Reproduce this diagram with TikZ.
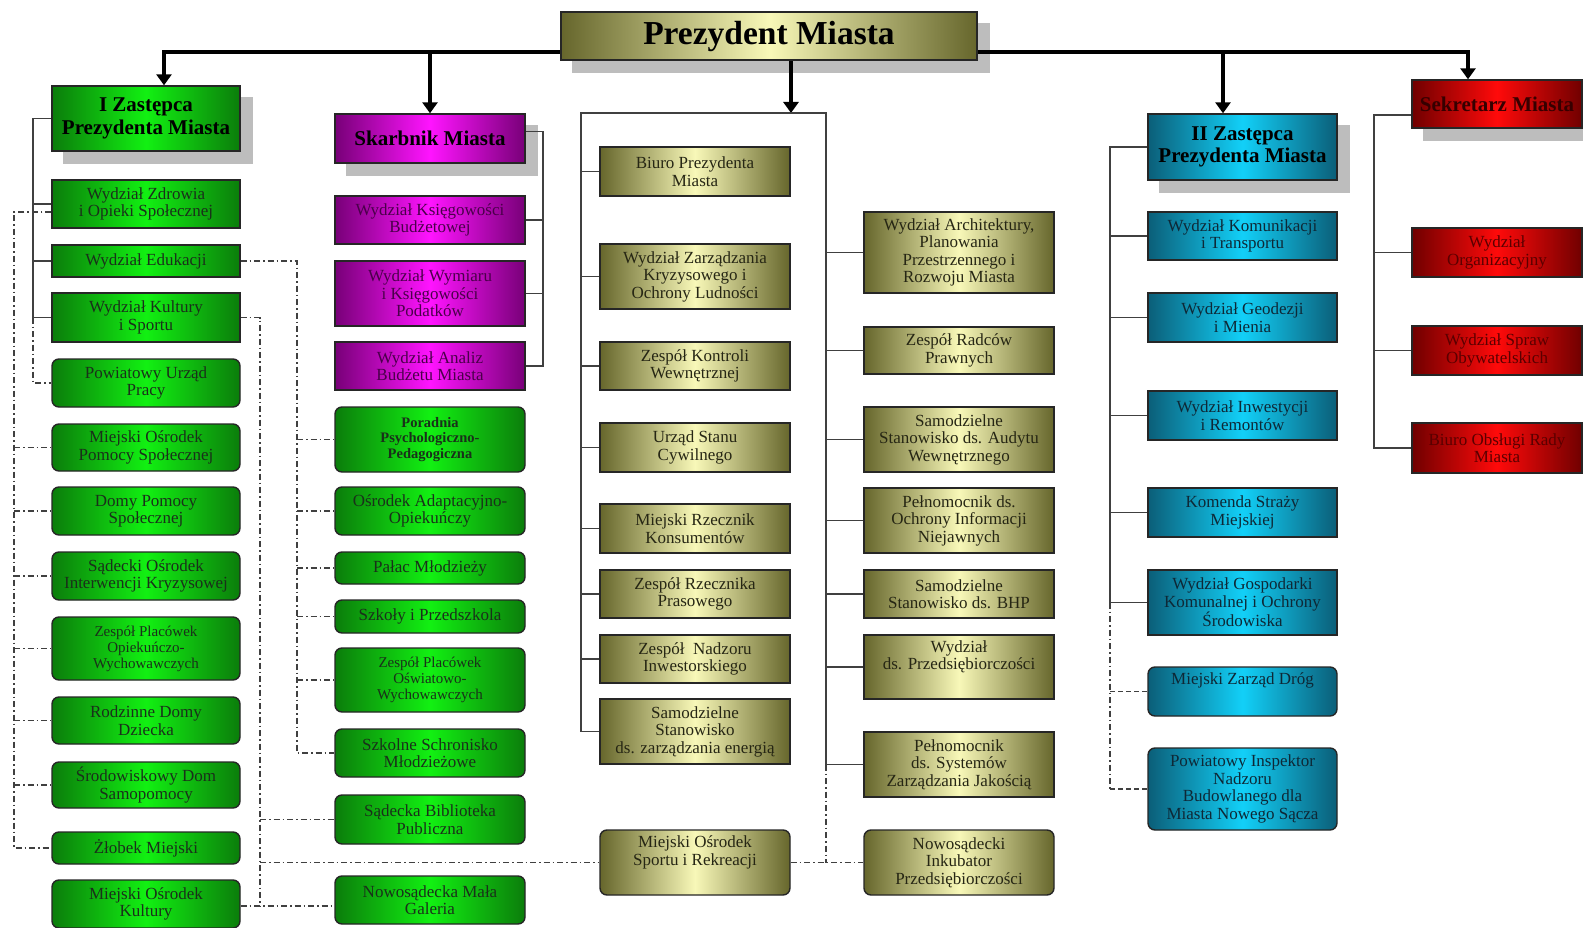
\documentclass[tikz,border=0pt]{standalone}
\usepackage{fontspec}
\setmainfont{Liberation Serif}
\usetikzlibrary{arrows.meta,backgrounds,calc}
\definecolor{gD}{HTML}{0B7D0B}\definecolor{gL}{HTML}{12F012}\definecolor{gT}{HTML}{1A301A}
\definecolor{oD}{HTML}{66662C}\definecolor{oL}{HTML}{F8F8B8}\definecolor{oT}{HTML}{262614}
\definecolor{mD}{HTML}{780078}\definecolor{mL}{HTML}{FF14FF}\definecolor{mT}{HTML}{4A004A}
\definecolor{bD}{HTML}{0B5E78}\definecolor{bL}{HTML}{12D0F8}\definecolor{bT}{HTML}{0E2836}
\definecolor{rD}{HTML}{700000}\definecolor{rL}{HTML}{FF0A0A}\definecolor{rT}{HTML}{5A0000}
\definecolor{shd}{HTML}{BDBDBD}
\newcommand{\orgbox}[7]{\node[#1, minimum width={#5pt-#3pt}, minimum height={#6pt-#4pt}] (#2) at ({(#3+#5)/2},{(#4+#6)/2}) {#7};}
\begin{document}
\begin{tikzpicture}[x=1pt,y=-1pt,
  box/.style={draw=black!85, line width=1.4pt, inner sep=1pt, align=center, font=\fontsize{17}{17.5}\selectfont},
  grn/.style={box, left color=gD, right color=gD, middle color=gL, text=gT},
  olv/.style={box, left color=oD, right color=oD, middle color=oL, text=oT},
  mag/.style={box, left color=mD, right color=mD, middle color=mL, text=mT},
  blu/.style={box, left color=bD, right color=bD, middle color=bL, text=bT},
  rdb/.style={box, left color=rD, right color=rD, middle color=rL, text=rT},
  rnd/.style={rounded corners=7pt},
  sml/.style={font=\fontsize{15}{16}\selectfont},
  smlb/.style={font=\fontsize{14.5}{15.5}\selectfont\bfseries},
  hdr/.style={font=\fontsize{21}{22.5}\selectfont\bfseries, text=black},
  conn/.style={draw=black!75, line width=1.3pt},
  dd/.style={draw=black!75, line width=1.2pt, dash pattern=on 6pt off 3pt on 1.5pt off 3pt},
  dsh/.style={draw=black!75, line width=1.2pt, dash pattern=on 5pt off 3pt},
  busarrow/.style={draw=black, line width=4.5pt, -{Triangle[width=15pt,length=11pt]}},
  shadowbox/.style={fill=shd}
]
\useasboundingbox (0,0) rectangle (1583,928);

% headers
\orgbox{olv,hdr,font=\fontsize{33.5}{35}\selectfont\bfseries}{pm}{561}{12}{977}{60}{Prezydent Miasta}
\orgbox{grn,hdr}{iz}{52}{86}{240}{151}{I Zastępca\\Prezydenta Miasta}
\orgbox{mag,hdr}{sk}{335}{114}{525}{163}{Skarbnik Miasta}
\orgbox{blu,hdr}{iiz}{1148}{114}{1337}{180}{II Zastępca\\Prezydenta Miasta}
\orgbox{rdb,hdr,font=\fontsize{21}{22}\selectfont\bfseries,text=rT!60!black}{sek}{1412}{80}{1582}{128}{Sekretarz Miasta}

% left column
\orgbox{grn}{wzd}{52}{180}{240}{228}{Wydział Zdrowia\\i Opieki Społecznej}
\orgbox{grn}{wed}{52}{245}{240}{277}{Wydział Edukacji}
\orgbox{grn}{wku}{52}{293}{240}{342}{Wydział Kultury\\i Sportu}
\orgbox{grn,rnd}{pup}{52}{359}{240}{407}{Powiatowy Urząd\\Pracy}
\orgbox{grn,rnd}{mops}{52}{424}{240}{471}{Miejski Ośrodek\\Pomocy Społecznej}
\orgbox{grn,rnd}{dps}{52}{487}{240}{535}{Domy Pomocy\\Społecznej}
\orgbox{grn,rnd}{soik}{52}{552}{240}{600}{Sądecki Ośrodek\\Interwencji Kryzysowej}
\orgbox{grn,rnd,sml}{zpow}{52}{617}{240}{680}{Zespół Placówek\\Opiekuńczo-\\Wychowawczych}
\orgbox{grn,rnd}{rdd}{52}{697}{240}{744}{Rodzinne Domy\\Dziecka}
\orgbox{grn,rnd}{sds}{52}{762}{240}{808}{Środowiskowy Dom\\Samopomocy}
\orgbox{grn,rnd}{zm}{52}{832}{240}{864}{Żłobek Miejski}
\orgbox{grn,rnd}{mok}{52}{880}{240}{928}{Miejski Ośrodek\\Kultury}

% second column
\orgbox{mag}{wkb}{335}{196}{525}{244}{Wydział Księgowości\\Budżetowej}
\orgbox{mag}{wwk}{335}{261}{525}{326}{Wydział Wymiaru\\i Księgowości\\Podatków}
\orgbox{mag}{wab}{335}{342}{525}{390}{Wydział Analiz\\Budżetu Miasta}
\orgbox{grn,rnd,smlb}{ppp}{335}{407}{525}{472}{Poradnia\\Psychologiczno-\\Pedagogiczna}
\orgbox{grn,rnd}{oao}{335}{487}{525}{535}{Ośrodek Adaptacyjno-\\Opiekuńczy}
\orgbox{grn,rnd}{pml}{335}{552}{525}{584}{Pałac Młodzieży}
\orgbox{grn,rnd}{szp}{335}{600}{525}{633}{Szkoły i Przedszkola}
\orgbox{grn,rnd,sml}{zpo}{335}{648}{525}{712}{Zespół Placówek\\Oświatowo-\\Wychowawczych}
\orgbox{grn,rnd}{ssm}{335}{729}{525}{777}{Szkolne Schronisko\\Młodzieżowe}
\orgbox{grn,rnd}{sbp}{335}{795}{525}{844}{Sądecka Biblioteka\\Publiczna}
\orgbox{grn,rnd}{nmg}{335}{876}{525}{924}{Nowosądecka Mała\\Galeria}

% central left
\orgbox{olv}{bpm}{600}{147}{790}{196}{Biuro Prezydenta\\Miasta}
\orgbox{olv}{wzk}{600}{244}{790}{309}{Wydział Zarządzania\\Kryzysowego i\\Ochrony Ludności}
\orgbox{olv}{zkw}{600}{342}{790}{390}{Zespół Kontroli\\Wewnętrznej}
\orgbox{olv}{usc}{600}{423}{790}{472}{Urząd Stanu\\Cywilnego}
\orgbox{olv}{mrk}{600}{504}{790}{553}{Miejski Rzecznik\\Konsumentów}
\orgbox{olv}{zrp}{600}{570}{790}{618}{Zespół Rzecznika\\Prasowego}
\orgbox{olv}{zni}{600}{635}{790}{683}{Zespół\ \ Nadzoru\\Inwestorskiego}
\orgbox{olv}{sse}{600}{699}{790}{764}{Samodzielne\\Stanowisko\\ds. zarządzania energią}
\orgbox{olv,rnd}{mosir}{600}{830}{790}{895}{Miejski Ośrodek\\Sportu i Rekreacji\\[6pt]}

% central right
\orgbox{olv}{wap}{864}{212}{1054}{293}{Wydział Architektury,\\Planowania\\Przestrzennego i\\Rozwoju Miasta}
\orgbox{olv}{zrpr}{864}{327}{1054}{374}{Zespół Radców\\Prawnych}
\orgbox{olv}{ssa}{864}{407}{1054}{472}{Samodzielne\\Stanowisko ds. Audytu\\Wewnętrznego}
\orgbox{olv}{poin}{864}{488}{1054}{553}{Pełnomocnik ds.\\Ochrony Informacji\\Niejawnych}
\orgbox{olv}{bhp}{864}{570}{1054}{618}{Samodzielne\\Stanowisko ds. BHP}
\orgbox{olv}{wdp}{864}{635}{1054}{699}{Wydział\\ds. Przedsiębiorczości\\[6pt]}
\orgbox{olv}{psz}{864}{732}{1054}{797}{Pełnomocnik\\ds. Systemów\\Zarządzania Jakością}
\orgbox{olv,rnd}{nip}{864}{830}{1054}{895}{Nowosądecki\\Inkubator\\Przedsiębiorczości}

% blue column
\orgbox{blu}{wkt}{1148}{212}{1337}{260}{Wydział Komunikacji\\i Transportu}
\orgbox{blu}{wgm}{1148}{293}{1337}{342}{Wydział Geodezji\\i Mienia}
\orgbox{blu}{wir}{1148}{391}{1337}{440}{Wydział Inwestycji\\i Remontów}
\orgbox{blu}{ksm}{1148}{488}{1337}{537}{Komenda Straży\\Miejskiej}
\orgbox{blu}{wgk}{1148}{570}{1337}{635}{Wydział Gospodarki\\Komunalnej i Ochrony\\Środowiska}
\orgbox{blu,rnd}{mzd}{1148}{667}{1337}{716}{Miejski Zarząd Dróg\\[8pt]}
\orgbox{blu,rnd}{pinb}{1148}{748}{1337}{830}{Powiatowy Inspektor\\Nadzoru\\Budowlanego dla\\Miasta Nowego Sącza}

% red column
\orgbox{rdb}{wo}{1412}{228}{1582}{277}{Wydział\\Organizacyjny}
\orgbox{rdb}{wso}{1412}{326}{1582}{375}{Wydział Spraw\\Obywatelskich}
\orgbox{rdb}{bor}{1412}{423}{1582}{473}{Biuro Obsługi Rady\\Miasta}

\begin{pgfonlayer}{background}
  \fill[white] (0,0) rectangle (1583,928);
  % shadows
  \foreach \n in {pm,iz,sk,iiz,sek}
    \fill[shadowbox] ([shift={(12,12)}]\n.south west) rectangle ([shift={(12,12)}]\n.north east);

  % top bus and arrows
  \coordinate (busL) at (164,52);
  \coordinate (busR) at (1468,52);
  \coordinate (a3) at (1223,52);
  \coordinate (cL) at (581,113);
  \coordinate (cR) at (826,113);
  \coordinate (cA) at (791,113);
  \draw[busarrow] (busR) -- (busL) -- (busL |- iz.north);
  \draw[busarrow] (busL) -- (busR) -- (busR |- sek.north);
  \draw[busarrow] (sk.north |- busL) -- (sk.north);
  \draw[busarrow] (a3) -- (a3 |- iiz.north);
  \draw[busarrow] (cA |- pm.south) -- (cA);

  % I Zastepca
  \coordinate (b1) at (33,0);
  \draw[conn] (iz.west) -| (b1 |- wku.west) -- (wku.west);
  \foreach \n in {wzd,wed} \draw[conn] (b1 |- \n.west) -- (\n.west);
  \draw[dd] (b1 |- wku.west) |- (pup.west);

  \coordinate (b0) at (14,0);
  \coordinate (wzdE) at ([yshift=-8pt]wzd.west);
  \draw[dd] (wzdE) -| (b0 |- zm.west) -- (zm.west);
  \foreach \n in {mops,dps,soik,zpow,rdd,sds} \draw[dd] (b0 |- \n.west) -- (\n.west);

  \coordinate (b2) at (297,0);
  \draw[dd] (wed.east) -| (b2 |- ssm.west) -- (ssm.west);
  \foreach \n in {ppp,oao,pml,szp,zpo} \draw[dd] (b2 |- \n.west) -- (\n.west);

  \coordinate (b3) at (260,0);
  \coordinate (mokE) at ([yshift=-2pt]mok.east);
  \draw[dd] (wku.east) -| (b3 |- mokE);
  \draw[dd] (mokE) -- (mokE -| nmg.west);
  \draw[dd] (b3 |- sbp.west) -- (sbp.west);
  \draw[dd] (b3 |- mosir.west) -- (mosir.west);

  % Skarbnik
  \coordinate (b4) at (543,0);
  \coordinate (skE) at ([yshift=7pt]sk.east);
  \draw[conn] (skE) -| (b4 |- wab.east) -- (wab.east);
  \foreach \n in {wkb,wwk} \draw[conn] (b4 |- \n.east) -- (\n.east);

  % central
  \draw[conn] (cL |- sse.west) -- (cL) -- (cR) -- (cR |- psz.west);
  \foreach \n in {bpm,wzk,zkw,usc,mrk,zrp,zni,sse} \draw[conn] (cL |- \n.west) -- (\n.west);
  \foreach \n in {wap,zrpr,ssa,poin,bhp,wdp,psz} \draw[conn] (cR |- \n.west) -- (\n.west);
  \draw[dd] (cR |- psz.west) -- (cR |- mosir.east);
  \draw[dd] (mosir.east) -- (nip.west);

  % II Zastepca
  \coordinate (b5) at (1110,0);
  \draw[conn] (iiz.west) -| (b5 |- wgk.west) -- (wgk.west);
  \foreach \n in {wkt,wgm,wir,ksm} \draw[conn] (b5 |- \n.west) -- (\n.west);
  \draw[dd] (b5 |- wgk.west) -- (b5 |- pinb.west);
  \draw[dsh] (b5 |- pinb.west) -- (pinb.west);
  \draw[dsh] (b5 |- mzd.west) -- (mzd.west);

  % Sekretarz
  \coordinate (b6) at (1374,0);
  \coordinate (sekW) at ([yshift=-11pt]sek.west);
  \draw[conn] (sekW) -| (b6 |- bor.west) -- (bor.west);
  \foreach \n in {wo,wso} \draw[conn] (b6 |- \n.west) -- (\n.west);
\end{pgfonlayer}
\end{tikzpicture}
\end{document}
